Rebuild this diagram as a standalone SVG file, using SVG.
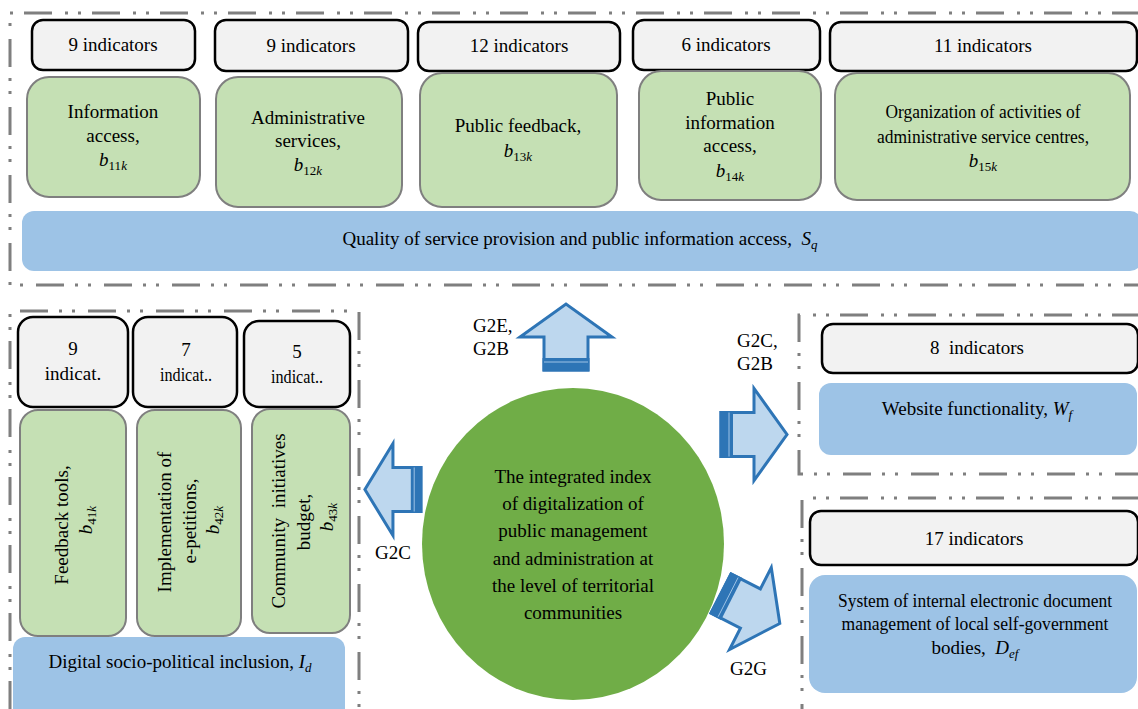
<svg xmlns="http://www.w3.org/2000/svg" xmlns:xlink="http://www.w3.org/1999/xlink" width="1138" height="709" viewBox="0 0 1138 709" font-family="'Liberation Serif', 'Times New Roman', serif">
<style>
.frame{fill:none;stroke:#7F7F7F;stroke-width:3;stroke-dasharray:28 11 3 10 3 13}
.ind{fill:#F2F2F2;stroke:#000;stroke-width:2.5}
.grn{fill:#C5E0B4;stroke:#7F7F7F;stroke-width:2}
.blu{fill:#9DC3E6}
.t{font-family:"Liberation Serif","Times New Roman",serif;font-size:19px;fill:#000}
.c{text-anchor:middle}
.i{font-style:italic}
.s{font-size:13px}
</style>
<defs>
<g id="arr">
<path d="M0,-22 H33 V-46 L66,0 L33,46 V22 H0 Z" fill="#BDD7EE" stroke="#2E75B6" stroke-width="3" vector-effect="non-scaling-stroke"/>
<rect x="-1.5" y="-23.5" width="13.5" height="47" fill="#2E75B6"/>
<line x1="8" y1="-22" x2="8" y2="22" stroke="#9DC3E6" stroke-width="1" vector-effect="non-scaling-stroke"/>
</g>
</defs>
<rect width="1138" height="709" fill="#fff"/>

<g id="frames">
<path class="frame" d="M1140,13 H10 V285 H1140"/>
<path class="frame" d="M10,709 V311 H359 V709"/>
<path class="frame" d="M1140,315 H799 V474 H1140"/>
<path class="frame" d="M1140,498 H802 V709"/>
</g>

<g id="top-indicators">
<g id="ti1"><rect class="ind" x="32" y="20" width="163" height="50" rx="11"/><text class="t c" x="113" y="51">9 indicators</text></g>
<g id="ti2"><rect class="ind" x="215" y="20" width="193" height="51" rx="11"/><text class="t c" x="311" y="52">9 indicators</text></g>
<g id="ti3"><rect class="ind" x="418" y="22" width="202" height="49" rx="11"/><text class="t c" x="519" y="52">12 indicators</text></g>
<g id="ti4"><rect class="ind" x="633" y="20" width="187" height="50" rx="11"/><text class="t c" x="726" y="51">6 indicators</text></g>
<g id="ti5"><rect class="ind" x="830" y="22" width="307" height="49" rx="11"/><text class="t c" x="983" y="52">11 indicators</text></g>
</g>

<g id="g1"><rect class="grn" x="27" y="77" width="173" height="120" rx="22"/>
<text class="t c" x="113" y="118">Information</text>
<text class="t c" x="113" y="142">access,</text>
<text class="t c" x="113" y="166"><tspan class="i">b</tspan><tspan class="s" dy="4">11</tspan><tspan class="s i">k</tspan></text></g>
<g id="g2"><rect class="grn" x="216" y="77" width="186" height="130" rx="22"/>
<text class="t c" x="308" y="124">Administrative</text>
<text class="t c" x="308" y="147">services,</text>
<text class="t c" x="308" y="171"><tspan class="i">b</tspan><tspan class="s" dy="4">12</tspan><tspan class="s i">k</tspan></text></g>
<g id="g3"><rect class="grn" x="420" y="73" width="197" height="134" rx="22"/>
<text class="t c" x="518" y="132">Public feedback,</text>
<text class="t c" x="518" y="157"><tspan class="i">b</tspan><tspan class="s" dy="4">13</tspan><tspan class="s i">k</tspan></text></g>
<g id="g4"><rect class="grn" x="639" y="71" width="182" height="129" rx="22"/>
<text class="t c" x="730" y="105">Public</text>
<text class="t c" x="730" y="129">information</text>
<text class="t c" x="730" y="152">access,</text>
<text class="t c" x="730" y="177"><tspan class="i">b</tspan><tspan class="s" dy="4">14</tspan><tspan class="s i">k</tspan></text></g>
<g id="g5"><rect class="grn" x="835" y="73" width="295" height="127" rx="22"/>
<text class="t c" x="983" y="118" textLength="195" lengthAdjust="spacingAndGlyphs">Organization of activities of</text>
<text class="t c" x="983" y="143" textLength="212" lengthAdjust="spacingAndGlyphs">administrative service centres,</text>
<text class="t c" x="983" y="167"><tspan class="i">b</tspan><tspan class="s" dy="4">15</tspan><tspan class="s i">k</tspan></text></g>

<g id="sq"><rect class="blu" x="22" y="211" width="1120" height="60" rx="12"/>
<text class="t c" x="580" y="245" xml:space="preserve">Quality of service provision and public information access,  <tspan class="i">S</tspan><tspan class="s i" dy="4">q</tspan></text></g>

<g id="left-indicators">
<g id="li1"><rect class="ind" x="18" y="317" width="110" height="90" rx="15"/><text class="t c" x="73" y="355">9</text><text class="t c" x="73" y="380">indicat.</text></g>
<g id="li2"><rect class="ind" x="133" y="317" width="104" height="90" rx="15"/><text class="t c" x="186" y="356">7</text><text class="t c" x="186" y="381" textLength="52" lengthAdjust="spacingAndGlyphs">indicat..</text></g>
<g id="li3"><rect class="ind" x="244" y="321" width="106" height="86" rx="15"/><text class="t c" x="297" y="358">5</text><text class="t c" x="297" y="383" textLength="52" lengthAdjust="spacingAndGlyphs">indicat..</text></g>
</g>

<g id="lg1"><rect class="grn" x="20" y="410" width="106" height="226" rx="18"/>
<text class="t c" transform="translate(68,525) rotate(-90)">Feedback tools,</text>
<text class="t c" transform="translate(92,520) rotate(-90)"><tspan class="i">b</tspan><tspan class="s" dy="4">41</tspan><tspan class="s i">k</tspan></text></g>
<g id="lg2"><rect class="grn" x="137" y="410" width="104" height="226" rx="18"/>
<text class="t c" transform="translate(171,522) rotate(-90)">Implementation of</text>
<text class="t c" transform="translate(196,521) rotate(-90)">e-petitions,</text>
<text class="t c" transform="translate(219,520) rotate(-90)"><tspan class="i">b</tspan><tspan class="s" dy="4">42</tspan><tspan class="s i">k</tspan></text></g>
<g id="lg3"><rect class="grn" x="252" y="409" width="98" height="224" rx="18"/>
<text class="t c" transform="translate(285,521) rotate(-90)" xml:space="preserve">Community  initiatives</text>
<text class="t c" transform="translate(310,522) rotate(-90)">budget,</text>
<text class="t c" transform="translate(333,517) rotate(-90)"><tspan class="i">b</tspan><tspan class="s" dy="4">43</tspan><tspan class="s i">k</tspan></text></g>

<g id="id"><rect class="blu" x="13" y="637" width="332" height="85" rx="12"/>
<text class="t c" x="180" y="668">Digital socio-political inclusion, <tspan class="i">I</tspan><tspan class="s i" dy="4">d</tspan></text></g>

<g id="center"><ellipse cx="573" cy="544" rx="151" ry="156" fill="#70AD47"/>
<text class="t c" x="573" y="483">The integrated index</text>
<text class="t c" x="573" y="510">of digitalization of</text>
<text class="t c" x="573" y="537">public management</text>
<text class="t c" x="573" y="565">and administration at</text>
<text class="t c" x="573" y="592">the level of territorial</text>
<text class="t c" x="573" y="619">communities</text></g>

<g id="wf">
<rect class="ind" x="822" y="324" width="316" height="49" rx="11"/>
<text class="t c" x="977" y="354" xml:space="preserve">8  indicators</text>
<rect class="blu" x="819" y="383" width="318" height="72" rx="12"/>
<text class="t c" x="977" y="415">Website functionality, <tspan class="i">W</tspan><tspan class="s i" dy="4">f</tspan></text>
</g>

<g id="def">
<rect class="ind" x="810" y="511" width="328" height="54" rx="11"/>
<text class="t c" x="974" y="545">17 indicators</text>
<rect class="blu" x="809" y="575" width="328" height="118" rx="16"/>
<text class="t c" x="975" y="607" textLength="274" lengthAdjust="spacingAndGlyphs">System of internal electronic document</text>
<text class="t c" x="975" y="630" textLength="267" lengthAdjust="spacingAndGlyphs">management of local self-government</text>
<text class="t c" x="975" y="654" xml:space="preserve">bodies,  <tspan class="i">D</tspan><tspan class="s i" dy="4">ef</tspan></text>
</g>

<g id="connectors">
<use xlink:href="#arr" transform="translate(566,370) rotate(-90)"/>
<use xlink:href="#arr" transform="translate(721,434.5)"/>
<use xlink:href="#arr" transform="translate(421,489.5) rotate(180) scale(0.85,1)"/>
<use xlink:href="#arr" transform="translate(721,593.5) rotate(27)"/>
<text class="t" x="473" y="332">G2E,</text>
<text class="t" x="473" y="355">G2B</text>
<text class="t" x="737" y="347">G2C,</text>
<text class="t" x="737" y="370">G2B</text>
<text class="t" x="375" y="559">G2C</text>
<text class="t" x="730" y="675">G2G</text>
</g>
</svg>
